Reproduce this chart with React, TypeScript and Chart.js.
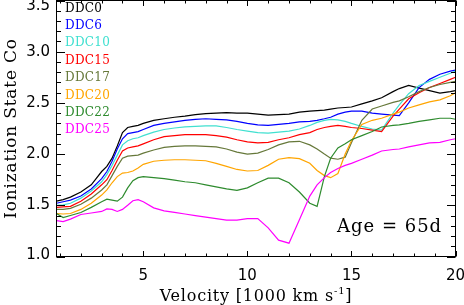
import React, { useEffect, useRef } from "react";
import { Chart, registerables } from "chart.js";

Chart.register(...registerables);

// ---- data ----
const velocity = [0.83, 1.15, 1.5, 2.0, 2.5, 3.0, 3.25, 3.5, 3.75, 4.0, 4.25, 4.5, 4.75, 5.0, 5.5, 6.0, 6.5, 7.0, 7.5, 8.0, 8.5, 9.0, 9.5, 10.0, 10.5, 11.0, 11.5, 12.0, 12.5, 13.0, 13.35, 13.7, 14.0, 14.35, 14.7, 15.0, 15.5, 16.0, 16.45, 17.0, 17.3, 17.75, 18.25, 18.75, 19.25, 19.75, 20.0];

const ddc0 = [1.54, 1.555, 1.58, 1.63, 1.70, 1.83, 1.88, 1.96, 2.08, 2.21, 2.26, 2.27, 2.28, 2.30, 2.33, 2.345, 2.36, 2.37, 2.385, 2.395, 2.40, 2.405, 2.40, 2.40, 2.39, 2.38, 2.385, 2.39, 2.41, 2.42, 2.425, 2.43, 2.44, 2.45, 2.455, 2.46, 2.49, 2.52, 2.55, 2.61, 2.64, 2.67, 2.645, 2.62, 2.595, 2.61, 2.62];
const ddc6 = [1.52, 1.535, 1.55, 1.59, 1.66, 1.76, 1.83, 1.93, 2.05, 2.15, 2.20, 2.21, 2.22, 2.24, 2.28, 2.30, 2.315, 2.33, 2.34, 2.345, 2.34, 2.335, 2.32, 2.30, 2.285, 2.28, 2.29, 2.30, 2.315, 2.32, 2.33, 2.345, 2.36, 2.39, 2.41, 2.42, 2.42, 2.40, 2.39, 2.38, 2.375, 2.50, 2.65, 2.73, 2.78, 2.81, 2.82];
const ddc10 = [1.50, 1.505, 1.52, 1.57, 1.64, 1.73, 1.80, 1.89, 1.99, 2.09, 2.13, 2.15, 2.16, 2.18, 2.215, 2.24, 2.255, 2.265, 2.27, 2.275, 2.275, 2.26, 2.24, 2.225, 2.21, 2.205, 2.215, 2.225, 2.245, 2.28, 2.31, 2.33, 2.34, 2.335, 2.32, 2.30, 2.27, 2.245, 2.235, 2.40, 2.48, 2.59, 2.67, 2.71, 2.75, 2.79, 2.81];
const ddc15 = [1.48, 1.485, 1.49, 1.54, 1.61, 1.70, 1.75, 1.84, 1.94, 2.03, 2.06, 2.07, 2.08, 2.10, 2.14, 2.17, 2.18, 2.19, 2.19, 2.19, 2.18, 2.165, 2.14, 2.12, 2.11, 2.115, 2.14, 2.16, 2.19, 2.21, 2.24, 2.26, 2.27, 2.28, 2.27, 2.26, 2.25, 2.235, 2.22, 2.37, 2.44, 2.54, 2.60, 2.65, 2.69, 2.73, 2.75];
const ddc17 = [1.46, 1.46, 1.47, 1.51, 1.57, 1.65, 1.70, 1.79, 1.88, 1.96, 1.98, 1.985, 1.99, 2.01, 2.04, 2.065, 2.075, 2.08, 2.08, 2.075, 2.07, 2.05, 2.02, 2.00, 2.01, 2.045, 2.09, 2.12, 2.125, 2.09, 2.05, 2.00, 1.96, 1.95, 1.97, 2.11, 2.33, 2.44, 2.47, 2.505, 2.52, 2.56, 2.61, 2.65, 2.68, 2.70, 2.71];
const ddc20 = [1.42, 1.415, 1.42, 1.46, 1.52, 1.60, 1.65, 1.72, 1.78, 1.815, 1.82, 1.835, 1.865, 1.90, 1.93, 1.94, 1.945, 1.945, 1.94, 1.935, 1.91, 1.88, 1.85, 1.835, 1.84, 1.89, 1.95, 1.965, 1.955, 1.91, 1.84, 1.79, 1.77, 1.81, 2.00, 2.13, 2.29, 2.33, 2.35, 2.39, 2.41, 2.45, 2.48, 2.51, 2.53, 2.57, 2.60];
const ddc22 = [1.42, 1.38, 1.40, 1.43, 1.48, 1.535, 1.56, 1.55, 1.54, 1.58, 1.67, 1.74, 1.77, 1.78, 1.77, 1.76, 1.745, 1.73, 1.72, 1.70, 1.68, 1.66, 1.645, 1.67, 1.72, 1.765, 1.765, 1.72, 1.63, 1.52, 1.49, 1.78, 1.96, 2.06, 2.10, 2.14, 2.18, 2.22, 2.265, 2.28, 2.285, 2.30, 2.32, 2.335, 2.35, 2.35, 2.34];
const ddc25 = [1.35, 1.34, 1.365, 1.41, 1.425, 1.44, 1.465, 1.46, 1.44, 1.46, 1.50, 1.545, 1.555, 1.535, 1.475, 1.445, 1.43, 1.415, 1.40, 1.385, 1.37, 1.355, 1.355, 1.37, 1.37, 1.28, 1.16, 1.13, 1.36, 1.59, 1.70, 1.77, 1.82, 1.86, 1.89, 1.91, 1.95, 1.99, 2.03, 2.045, 2.05, 2.07, 2.09, 2.11, 2.115, 2.14, 2.15];

const seriesLabels = ["DDC0", "DDC6", "DDC10", "DDC15", "DDC17", "DDC20", "DDC22", "DDC25"];
const seriesValues = [ddc0, ddc6, ddc10, ddc15, ddc17, ddc20, ddc22, ddc25];
const seriesColors = ["#000000", "#0000ff", "#40e0d0", "#ff0000", "#66783a", "#ffa500", "#2e8b2e", "#ff00ff"];

const xTickValues = [5, 10, 15, 20];
const xTickLabels = ["5", "10", "15", "20"];
const yTickValues = [1.0, 1.5, 2.0, 2.5, 3.0, 3.5];
const yTickLabels = ["1.0", "1.5", "2.0", "2.5", "3.0", "3.5"];
const xMin = 0.83;
const xMax = 20;
const yMin = 1.0;
const yMax = 3.5;
const xMinorStep = 1;
const yMinorStep = 0.1;

const xTitle = "Velocity [1000 km s";
const xTitleSup = "-1";
const xTitleEnd = "]";
const yTitle = "Ionization State Co";
const ageText = "Age = 65d";

const overlayPlugin = {
  id: "idlOverlay",
  afterDraw(chart: any) {
    const { ctx, chartArea } = chart;
    const xs = chart.scales.x;
    const ys = chart.scales.y;
    const { left, right, top, bottom } = chartArea;
    ctx.save();
    ctx.strokeStyle = "#000";
    ctx.fillStyle = "#000";
    ctx.lineWidth = 1;
    ctx.strokeRect(left, top, right - left, bottom - top);

    // x ticks (bottom and top, pointing inward)
    ctx.beginPath();
    for (let v = Math.ceil(xMin); v <= xMax + 1e-9; v += xMinorStep) {
      const major = xTickValues.some((t) => Math.abs(t - v) < 1e-6);
      const len = major ? 5.5 : 3;
      const px = Math.round(xs.getPixelForValue(v)) + 0.5;
      ctx.moveTo(px, bottom);
      ctx.lineTo(px, bottom - len);
      ctx.moveTo(px, top);
      ctx.lineTo(px, top + len);
    }
    // y ticks (left and right)
    const nY = Math.round((yMax - yMin) / yMinorStep);
    for (let i = 0; i <= nY; i++) {
      const v = yMin + i * yMinorStep;
      const major = yTickValues.some((t) => Math.abs(t - v) < 1e-6);
      const len = major ? 8.5 : 4.5;
      const py = Math.round(ys.getPixelForValue(v)) + 0.5;
      ctx.moveTo(left, py);
      ctx.lineTo(left + len, py);
      ctx.moveTo(right, py);
      ctx.lineTo(right - len, py);
    }
    ctx.stroke();

    // tick labels
    ctx.font = "15px 'DejaVu Sans'";
    ctx.textAlign = "right";
    ctx.textBaseline = "middle";
    yTickValues.forEach((v, i) => {
      const py = Math.min(Math.max(ys.getPixelForValue(v), 6.5), 255);
      ctx.fillText(yTickLabels[i], left - 6.5, py);
    });
    ctx.textAlign = "center";
    xTickValues.forEach((v, i) => {
      ctx.fillText(xTickLabels[i], xs.getPixelForValue(v), 276);
    });

    // x title with superscript
    ctx.textBaseline = "alphabetic";
    ctx.textAlign = "left";
    (ctx as any).letterSpacing = "0.8px";
    ctx.font = "16px 'DejaVu Serif'";
    const w1 = ctx.measureText(xTitle).width;
    const w3 = ctx.measureText(xTitleEnd).width;
    ctx.font = "10px 'DejaVu Serif'";
    const w2 = ctx.measureText(xTitleSup).width;
    const cx = (left + right) / 2;
    const x0 = cx - (w1 + w2 + w3) / 2;
    ctx.font = "16px 'DejaVu Serif'";
    ctx.fillText(xTitle, x0, 301);
    ctx.font = "10px 'DejaVu Serif'";
    ctx.fillText(xTitleSup, x0 + w1, 294);
    ctx.font = "16px 'DejaVu Serif'";
    ctx.fillText(xTitleEnd, x0 + w1 + w2, 301);

    // y title
    ctx.save();
    ctx.translate(12, (top + bottom) / 2);
    ctx.rotate(-Math.PI / 2);
    ctx.textAlign = "center";
    ctx.textBaseline = "middle";
    ctx.font = "17px 'DejaVu Serif'";
    (ctx as any).letterSpacing = "0.8px";
    ctx.fillText(yTitle, 0, 0);
    ctx.restore();

    // legend (coloured labels)
    (ctx as any).letterSpacing = "0.3px";
    ctx.font = "12px 'DejaVu Serif'";
    ctx.textAlign = "left";
    ctx.textBaseline = "middle";
    chart.data.datasets.forEach((ds: any, i: number) => {
      ctx.fillStyle = ds.borderColor;
      ctx.fillText(ds.label, 65, 8.5 + 17.4 * i);
    });

    // age annotation
    ctx.fillStyle = "#000";
    ctx.font = "18px 'DejaVu Serif'";
    (ctx as any).letterSpacing = "1px";
    ctx.textBaseline = "alphabetic";
    ctx.textAlign = "left";
    ctx.fillText(ageText, 337, 232);
    ctx.restore();
  },
};

export default function App() {
  const ref = useRef<HTMLCanvasElement>(null);
  useEffect(() => {
    if (!ref.current) return;
    const chart = new Chart(ref.current, {
      type: "line",
      data: {
        datasets: seriesValues.map((vals, i) => ({
          label: seriesLabels[i],
          data: velocity.map((v, j) => ({ x: v, y: vals[j] })),
          borderColor: seriesColors[i],
          backgroundColor: seriesColors[i],
          borderWidth: 1.2,
          pointRadius: 0,
          fill: false,
          tension: 0,
          order: seriesValues.length - i,
        })),
      },
      options: {
        responsive: false,
        animation: false,
        devicePixelRatio: 1,
        layout: { padding: { left: 0, right: 8.5, top: 0.5, bottom: 0 } },
        plugins: { legend: { display: false }, tooltip: { enabled: false }, title: { display: false } },
        scales: {
          x: {
            type: "linear",
            min: xMin,
            max: xMax,
            ticks: { display: false },
            grid: { display: false },
            border: { display: false },
            afterFit: (s: any) => {
              s.height = 48.5;
            },
          },
          y: {
            type: "linear",
            min: yMin,
            max: yMax,
            ticks: { display: false },
            grid: { display: false },
            border: { display: false },
            afterFit: (s: any) => {
              s.width = 56.5;
            },
          },
        },
      },
      plugins: [overlayPlugin],
    } as any);
    return () => chart.destroy();
  }, []);
  return (
    <div style={{ position: "absolute", left: 0, top: 0, width: 464, height: 305, background: "#fff" }}>
      <canvas ref={ref} width={464} height={305} style={{ display: "block", width: 464, height: 305 }} />
    </div>
  );
}
